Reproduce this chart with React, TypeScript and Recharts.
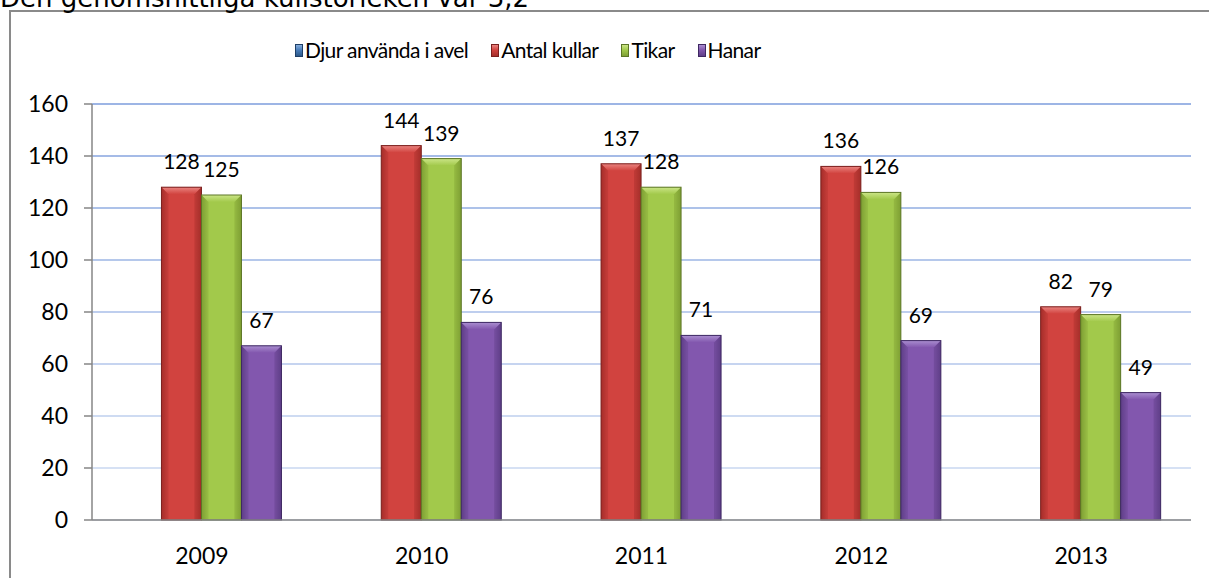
import { BarChart, Bar, XAxis, YAxis, CartesianGrid, LabelList } from "recharts";

const years = ["2009", "2010", "2011", "2012", "2013"];
const djur: (number | null)[] = [null, null, null, null, null];
const kullar = [128, 144, 137, 136, 82];
const tikar = [125, 139, 128, 126, 79];
const hanar = [67, 76, 71, 69, 49];
const yTicks = [0, 20, 40, 60, 80, 100, 120, 140, 160];

const TITLE = "Den genomsnittliga kullstorleken var 3,2";

const series = [
  { key: "djur", name: "Djur använda i avel", values: djur, base: "#4A7EBB", light: "#86ADDC", dark: "#2C5889", line: "#1F3F66" },
  { key: "kullar", name: "Antal kullar", values: kullar, base: "#D1433F", light: "#EA8480", dark: "#A52E2A", line: "#7A201E" },
  { key: "tikar", name: "Tikar", values: tikar, base: "#A2C94B", light: "#CBE587", dark: "#7E9F34", line: "#5C7626" },
  { key: "hanar", name: "Hanar", values: hanar, base: "#8257AE", light: "#AA8ED0", dark: "#5F3F88", line: "#3E2862" },
];

const W = 1209;
const H = 578;
// two bottom axes of height 1 each -> plot bottom stays at 520
const M = { top: 104, right: 18, bottom: 56, left: 0 };
const FONT = "Lato, 'Open Sans', sans-serif";

const data = years.map((year, i) => {
  const row: Record<string, string | number | null> = { year };
  series.forEach((s) => {
    row[s.key] = s.values[i];
  });
  return row;
});

type S = (typeof series)[number];

function BevelBar(props: any) {
  const { x, y, width, height, s } = props as { x: number; y: number; width: number; height: number; s: S };
  if (!height || height <= 0) return null;
  const b = Math.min(7, height / 2);
  return (
    <g>
      <rect x={x} y={y} width={width} height={height} fill={`url(#body-${s.key})`} />
      <polygon
        points={`${x},${y} ${x + width},${y} ${x + width - b},${y + b} ${x + b},${y + b}`}
        fill={`url(#top-${s.key})`}
      />
      <polygon points={`${x},${y} ${x + b},${y + b} ${x + b},${y + height} ${x},${y + height}`} fill={s.dark} opacity={0.35} />
      <polygon
        points={`${x + width},${y} ${x + width - b},${y + b} ${x + width - b},${y + height} ${x + width},${y + height}`}
        fill={s.dark}
        opacity={0.45}
      />
      <rect x={x} y={y} width={width} height={height} fill="none" stroke={s.line} strokeWidth={1} />
    </g>
  );
}

function gridLine(p: any) {
  const t = Math.max(0, Math.min(1, (p.y1 - M.top) / (H - M.top - M.bottom - 2)));
  const c0 = [157, 181, 229];
  const c1 = [222, 231, 246];
  const col = c0.map((v, i) => Math.round(v + (c1[i] - v) * t));
  return <line key={p.key} x1={p.x1} y1={p.y1} x2={p.x2} y2={p.y2} stroke={`rgb(${col.join(",")})`} strokeWidth={2} />;
}

function LegendKey({ s }: { s: S }) {
  return (
    <span
      style={{
        display: "inline-block",
        width: 8,
        height: 13,
        marginRight: 2,
        background: `linear-gradient(180deg, ${s.light} 0%, ${s.base} 45%, ${s.dark} 100%)`,
        border: `1px solid ${s.line}`,
        boxSizing: "border-box",
      }}
    />
  );
}

export default function App() {
  return (
    <div style={{ position: "absolute", left: 0, top: 0, width: W, height: H, overflow: "hidden", background: "#fff" }}>
      <div
        style={{
          position: "absolute",
          left: 9,
          top: 10,
          width: W,
          height: H,
          borderLeft: "2px solid #8a8a8a",
          borderTop: "2px solid #8a8a8a",
        }}
      />
      <div
        style={{
          position: "absolute",
          left: 0,
          top: -14,
          fontFamily: "'DejaVu Sans', Verdana, sans-serif",
          fontSize: 26,
          lineHeight: "25px",
          whiteSpace: "nowrap",
          color: "#000",
        }}
      >
        {TITLE}
      </div>
      <div
        style={{
          position: "absolute",
          left: 295,
          top: 37,
          display: "flex",
          alignItems: "center",
          gap: 23,
          fontFamily: FONT,
          fontSize: 21,
          letterSpacing: -0.6,
          lineHeight: "26px",
          whiteSpace: "nowrap",
          color: "#000",
        }}
      >
        {series.map((s) => (
          <span key={s.key} style={{ display: "inline-flex", alignItems: "center" }}>
            <LegendKey s={s} />
            {s.name}
          </span>
        ))}
      </div>
      <div style={{ position: "absolute", left: 0, top: 0 }}>
        <BarChart width={W} height={H} data={data} margin={M} barGap={0} barCategoryGap="13.4%">
          <defs>
            {series.map((s) => (
              <linearGradient key={`b-${s.key}`} id={`body-${s.key}`} x1="0" y1="0" x2="1" y2="0">
                <stop offset="0%" stopColor={s.dark} />
                <stop offset="15%" stopColor={s.base} />
                <stop offset="50%" stopColor={s.base} />
                <stop offset="85%" stopColor={s.base} />
                <stop offset="100%" stopColor={s.dark} />
              </linearGradient>
            ))}
            {series.map((s) => (
              <linearGradient key={`t-${s.key}`} id={`top-${s.key}`} x1="0" y1="0" x2="0" y2="1">
                <stop offset="0%" stopColor={s.light} />
                <stop offset="100%" stopColor={s.base} />
              </linearGradient>
            ))}
          </defs>
          <CartesianGrid vertical={false} horizontal={gridLine} />
          <XAxis
            dataKey="year"
            height={1}
            interval={0}
            tickLine={false}
            tickSize={8}
            tickMargin={20}
            axisLine={{ stroke: "#868686", strokeWidth: 1.5 }}
            tick={{ fill: "#000", fontSize: 23, fontFamily: FONT }}
          />
          <XAxis
            xAxisId="edge"
            type="number"
            domain={[0, years.length]}
            ticks={[...years.map((_, i) => i), years.length]}
            allowDataOverflow
            height={1}
            tick={false}
            axisLine={false}
            tickSize={8}
            tickLine={{ stroke: "#868686", strokeWidth: 1.5 }}
          />
          <YAxis
            domain={[0, 160]}
            ticks={yTicks}
            interval={0}
            width={92}
            tickSize={8}
            tickMargin={16}
            axisLine={{ stroke: "#868686", strokeWidth: 1.5 }}
            tickLine={{ stroke: "#868686", strokeWidth: 1.5 }}
            tick={{ fill: "#000", fontSize: 23, fontFamily: FONT }}
          />
          {series.map((s) => (
            <Bar
              key={s.key}
              dataKey={s.key}
              name={s.name}
              fill={s.base}
              isAnimationActive={false}
              shape={(p: any) => <BevelBar {...p} s={s} />}
            >
              {s.key !== "djur" && (
                <LabelList dataKey={s.key} position="top" offset={18} fill="#000" fontSize={21} fontFamily={FONT} />
              )}
            </Bar>
          ))}
        </BarChart>
      </div>
    </div>
  );
}
